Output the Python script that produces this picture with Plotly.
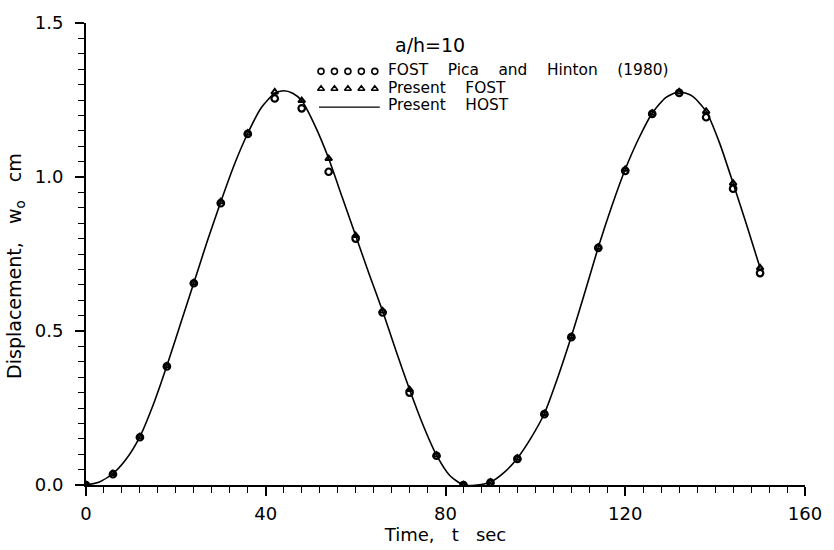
import plotly.graph_objects as go

# ---- data ----
t_pts = [0, 6, 12, 18, 24, 30, 36, 42, 48, 54, 60, 66, 72, 78, 84, 90, 96, 102,
         108, 114, 120, 126, 132, 138, 144, 150]
pica_fost = [0.0, 0.035, 0.155, 0.385, 0.655, 0.915, 1.14, 1.255, 1.223, 1.017,
             0.80, 0.56, 0.30, 0.095, 0.0, 0.008, 0.085, 0.23, 0.48, 0.77, 1.02,
             1.205, 1.273, 1.194, 0.962, 0.688]
present_fost = [0.0, 0.037, 0.157, 0.387, 0.657, 0.92, 1.142, 1.276, 1.248, 1.06,
                0.81, 0.565, 0.31, 0.097, 0.0, 0.009, 0.087, 0.232, 0.482, 0.772,
                1.025, 1.207, 1.276, 1.213, 0.98, 0.705]

t_host = [0, 3, 6, 9, 12, 15, 18, 21, 24, 27, 30, 33, 36, 39, 42, 44, 46, 48, 51,
          54, 57, 60, 63, 66, 69, 72, 75, 78, 81, 84, 87, 90, 93, 96, 99, 102, 105,
          108, 111, 114, 117, 120, 123, 126, 129, 132, 135, 138, 141, 144, 147, 150]
present_host = [0.0, 0.01, 0.037, 0.085, 0.157, 0.262, 0.387, 0.522, 0.657, 0.792,
                0.92, 1.04, 1.142, 1.225, 1.272, 1.28, 1.272, 1.248, 1.165, 1.06,
                0.935, 0.81, 0.685, 0.565, 0.435, 0.31, 0.195, 0.097, 0.03, 0.0,
                0.0, 0.009, 0.04, 0.087, 0.152, 0.232, 0.35, 0.482, 0.625, 0.772,
                0.905, 1.025, 1.125, 1.207, 1.258, 1.277, 1.262, 1.213, 1.11, 0.98,
                0.845, 0.705]

x_ticks = [0, 40, 80, 120, 160]
y_ticks = [0.0, 0.5, 1.0, 1.5]
y_ticklabels = ["0.0", "0.5", "1.0", "1.5"]

NB = "\u00a0"
GAP = NB * 4
legend_labels = [GAP.join(["FOST", "Pica", "and", "Hinton", "(1980)"]),
                 GAP.join(["Present", "FOST"]),
                 GAP.join(["Present", "HOST"])]
legend_title = "a/h=10"
x_title = "Time," + NB * 3 + "t" + NB * 3 + "sec"
y_title = "Displacement," + NB * 3 + "w<sub>o</sub>" + NB * 3 + "cm"

FONT = "DejaVu Sans"
W, H = 834, 550
ML, MR, MT, MB = 86, 26, 15, 57
pw, ph = W - ML - MR, H - MT - MB
X0, X1, Y0, Y1 = 0, 160, 0, 1.5


def pxp(xp):          # pixel x -> paper x
    return (xp - ML) / pw


def pyp(yp):          # pixel y (from top) -> paper y
    return (H - MB - yp) / ph


def pxd(xp):          # pixel x -> axis units (legend key placement)
    return X0 + pxp(xp) * (X1 - X0)


def pyd(yp):          # pixel y -> axis units (legend key placement)
    return Y0 + pyp(yp) * (Y1 - Y0)


fig = go.Figure()

fig.add_trace(go.Scatter(
    x=t_host, y=present_host, mode="lines",
    line=dict(color="black", width=1.6, shape="spline", smoothing=0.6),
    showlegend=False))
fig.add_trace(go.Scatter(
    x=t_pts, y=pica_fost, mode="markers",
    marker=dict(symbol="circle-open", size=6.5, color="black", line=dict(width=2.2)),
    showlegend=False))
fig.add_trace(go.Scatter(
    x=t_pts, y=present_fost, mode="markers",
    marker=dict(symbol="triangle-up-open", size=6, color="black", line=dict(width=2)),
    showlegend=False))

# ---- legend keys ----
key_x = [pxd(v) for v in [322, 335.5, 349, 362.5, 376]]
fig.add_trace(go.Scatter(
    x=key_x, y=[pyd(65)] * 5, mode="markers",
    marker=dict(symbol="circle-open", size=6, color="black", line=dict(width=1.6)),
    showlegend=False, hoverinfo="skip"))
fig.add_trace(go.Scatter(
    x=key_x, y=[pyd(83)] * 5, mode="markers",
    marker=dict(symbol="triangle-up-open", size=6, color="black", line=dict(width=1.5)),
    showlegend=False, hoverinfo="skip"))
fig.add_trace(go.Scatter(
    x=[pxd(320), pxd(381)], y=[pyd(102), pyd(102)], mode="lines",
    line=dict(color="black", width=1.4), showlegend=False, hoverinfo="skip"))

annotations = [
    dict(xref="paper", yref="paper", x=pxp(431), y=pyp(38),
         text=legend_title, showarrow=False, xanchor="center", yanchor="middle",
         borderpad=0, font=dict(family=FONT, size=19, color="black")),
    dict(xref="paper", yref="paper", x=pxp(15), y=pyp(266),
         text=y_title, showarrow=False, xanchor="center", yanchor="middle",
         textangle=-90, borderpad=0, font=dict(family=FONT, size=19, color="black")),
]
for lab, yy in zip(legend_labels, [64, 82, 100]):
    annotations.append(dict(
        xref="paper", yref="paper", x=pxp(388), y=pyp(yy),
        text=lab, showarrow=False, xanchor="left", yanchor="middle", borderpad=0,
        font=dict(family=FONT, size=15.4, color="black")))

fig.update_layout(
    width=W, height=H,
    margin=dict(l=ML, r=MR, t=MT, b=MB, pad=0),
    paper_bgcolor="white", plot_bgcolor="white",
    font=dict(family=FONT, size=18, color="black"),
    annotations=annotations,
    xaxis=dict(
        range=[X0, X1], tickvals=x_ticks, ticktext=[str(v) for v in x_ticks],
        showgrid=False, zeroline=False, showline=True, linecolor="black", linewidth=2,
        ticks="outside", ticklen=9, tickwidth=1.5, tickcolor="black",
        minor=dict(dtick=4, ticks="outside", ticklen=6, tickwidth=1.3, tickcolor="black"),
        tickfont=dict(family=FONT, size=18), ticklabelstandoff=2,
        title=dict(text=x_title, font=dict(family=FONT, size=18), standoff=2),
    ),
    yaxis=dict(
        range=[Y0, Y1], tickvals=y_ticks, ticktext=y_ticklabels,
        showgrid=False, zeroline=False, showline=True, linecolor="black", linewidth=2,
        ticks="outside", ticklen=9, tickwidth=1.5, tickcolor="black",
        minor=dict(dtick=0.05, ticks="outside", ticklen=6, tickwidth=1.3, tickcolor="black"),
        tickfont=dict(family=FONT, size=18), ticklabelstandoff=8,
    ),
)

fig.write_html("out.html")
